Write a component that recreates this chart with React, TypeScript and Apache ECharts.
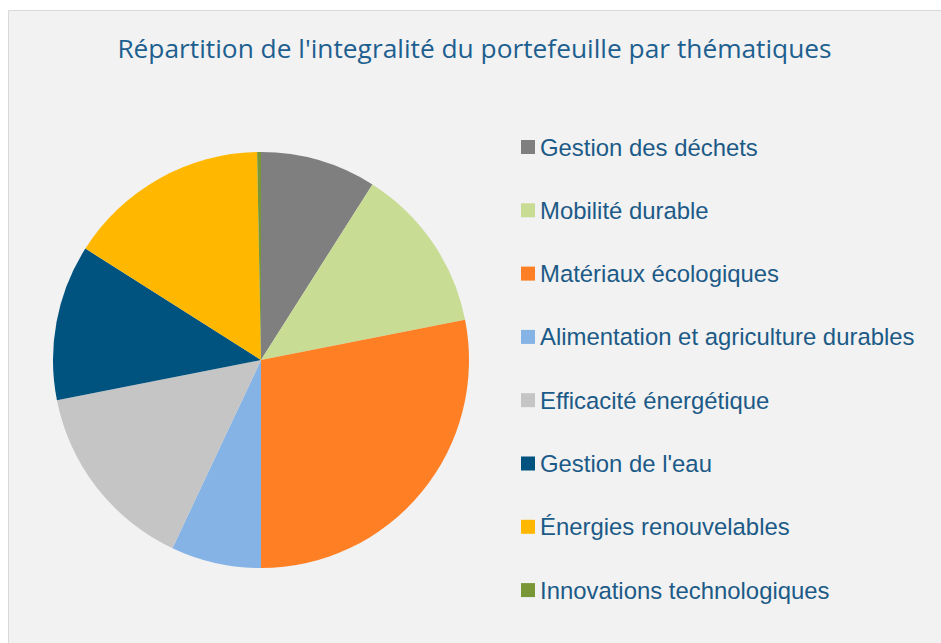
import React, { useEffect, useRef } from "react";
import * as echarts from "echarts";

const titleText = "Répartition de l'integralité du portefeuille par thématiques";
const categories = [
  "Gestion des déchets",
  "Mobilité durable",
  "Matériaux écologiques",
  "Alimentation et agriculture durables",
  "Efficacité énergétique",
  "Gestion de l'eau",
  "Énergies renouvelables",
  "Innovations technologiques",
];
const values = [9.0, 12.9, 28.1, 7.0, 14.9, 12.1, 15.7, 0.3];
const colors = ["#7f7f7f", "#c9dc94", "#fe7f24", "#85b3e5", "#c5c5c5", "#00527f", "#ffb700", "#799736"];

export default function App() {
  const ref = useRef<HTMLDivElement>(null);
  useEffect(() => {
    if (!ref.current) return;
    const chart = echarts.init(ref.current, undefined, { renderer: "svg" });
    chart.setOption({
      animation: false,
      backgroundColor: "#ffffff",
      graphic: [
        {
          type: "rect",
          z: -10,
          shape: { x: 8.5, y: 10.5, width: 940, height: 640 },
          style: { fill: "#f2f2f2", stroke: "#d9d9d9", lineWidth: 1 },
          silent: true,
        },
        {
          type: "text",
          x: 474.5,
          y: 48,
          style: {
            text: titleText,
            fill: "#1d5f8f",
            font: "26.3px 'Open Sans'",
            textAlign: "center",
            textVerticalAlign: "middle",
          },
        },
      ],
      legend: {
        orient: "vertical",
        left: 516,
        top: 130,
        itemWidth: 14,
        itemHeight: 14,
        itemGap: 39.3,
        itemTextGap: 6,
        icon: "rect",
        data: categories,
        selectedMode: false,
        textStyle: {
          color: "#1c5a87",
          fontSize: 23.9,
          lineHeight: 24,
          fontFamily: "'Liberation Sans', Arial, sans-serif",
        },
      },
      series: [
        {
          type: "pie",
          center: [261, 360],
          radius: [0, 208],
          startAngle: 90,
          clockwise: true,
          label: { show: false },
          labelLine: { show: false },
          itemStyle: { borderWidth: 0 },
          emphasis: { disabled: true },
          data: categories.map((name, i) => ({
            name,
            value: values[i],
            itemStyle: { color: colors[i] },
          })),
        },
      ],
    });
    return () => chart.dispose();
  }, []);
  return (
    <div
      ref={ref}
      style={{ position: "fixed", left: 0, top: 0, width: 941, height: 643 }}
    />
  );
}
